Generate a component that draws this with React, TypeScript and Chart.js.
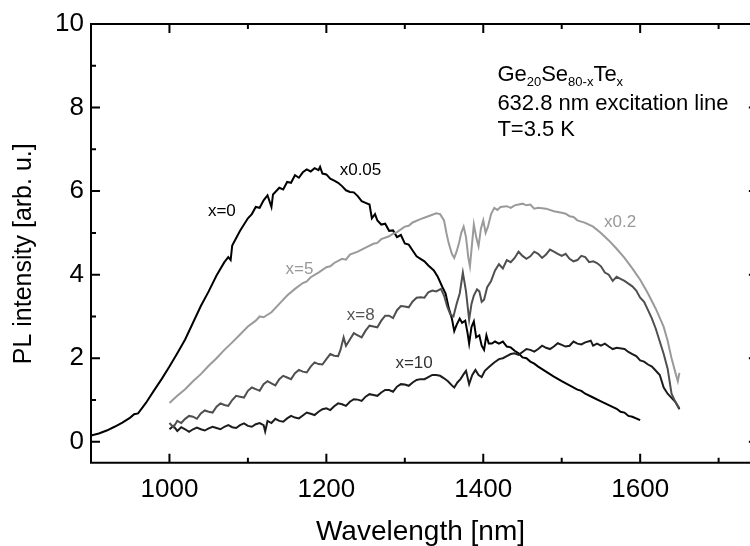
import React, { useEffect, useRef } from "react";
import { Chart, registerables } from "chart.js";

Chart.register(...registerables);

// ---- data (wavelength nm, PL intensity arb. u.) ----
const x0Spectrum: [number, number][] = [
  [900, 0.15], [910, 0.2], [920, 0.27], [930, 0.36], [940, 0.46], [950, 0.58], [955, 0.66], [960, 0.68],
  [970, 0.93], [980, 1.22], [990, 1.5], [1000, 1.8], [1010, 2.12], [1020, 2.45], [1030, 2.85], [1040, 3.25],
  [1050, 3.6], [1060, 3.98], [1070, 4.3], [1075, 4.42], [1078, 4.35], [1080, 4.7], [1090, 5.05], [1100, 5.35],
  [1105, 5.45], [1110, 5.62], [1115, 5.6], [1120, 5.78], [1125, 5.9], [1130, 5.62], [1132, 5.92], [1140, 6.08],
  [1145, 6.04], [1150, 6.22], [1155, 6.2], [1160, 6.38], [1165, 6.32], [1170, 6.45], [1175, 6.52], [1180, 6.47],
  [1185, 6.55], [1190, 6.5], [1192, 6.58], [1195, 6.42], [1200, 6.4], [1205, 6.3], [1210, 6.25], [1215, 6.2],
  [1220, 6.12], [1225, 6.02], [1230, 5.98], [1235, 5.97], [1240, 5.88], [1245, 5.76], [1250, 5.72], [1255, 5.68],
  [1258, 5.35], [1262, 5.45], [1265, 5.3], [1270, 5.2], [1275, 5.22], [1280, 5.05], [1285, 5.06], [1290, 4.9],
  [1295, 4.95], [1300, 4.75], [1305, 4.72], [1310, 4.58], [1315, 4.44], [1320, 4.38], [1325, 4.32], [1330, 4.22],
  [1337, 4.1], [1342, 3.95], [1348, 3.7], [1352, 3.55], [1356, 3.2], [1360, 2.95],
  [1363, 2.65], [1366, 2.8], [1370, 2.95], [1373, 2.85], [1377, 2.9], [1380, 2.6], [1382, 2.35], [1385, 2.75],
  [1388, 2.88], [1391, 2.5], [1395, 2.55], [1398, 2.3], [1401, 2.2], [1404, 2.55], [1407, 2.35], [1411, 2.35],
  [1415, 2.4], [1420, 2.35], [1425, 2.4], [1430, 2.28], [1435, 2.26], [1440, 2.18], [1445, 2.12], [1450, 2.02],
  [1455, 2.0], [1460, 1.92], [1465, 1.87], [1470, 1.8], [1475, 1.74], [1480, 1.68], [1490, 1.56], [1500, 1.45],
  [1510, 1.35], [1520, 1.25], [1525, 1.22], [1530, 1.15], [1540, 1.06], [1550, 0.97],
  [1560, 0.88], [1570, 0.79], [1575, 0.72], [1580, 0.7], [1585, 0.62], [1590, 0.6], [1600, 0.52],
];

const x5Spectrum: [number, number][] = [
  [1000, 0.93], [1010, 1.1], [1020, 1.26], [1030, 1.45], [1040, 1.62], [1050, 1.82], [1060, 2.0], [1070, 2.2],
  [1080, 2.38], [1090, 2.57], [1100, 2.76], [1110, 2.9], [1115, 3.0], [1120, 2.98], [1130, 3.1], [1140, 3.3],
  [1150, 3.5], [1160, 3.66], [1170, 3.8], [1175, 3.84], [1180, 3.94], [1190, 4.05], [1200, 4.18], [1205, 4.2],
  [1210, 4.28], [1220, 4.38], [1225, 4.36], [1230, 4.48], [1240, 4.55], [1245, 4.6], [1250, 4.65], [1260, 4.74],
  [1265, 4.76], [1270, 4.85], [1280, 4.92], [1285, 4.98], [1290, 5.02], [1300, 5.15], [1305, 5.17],
  [1310, 5.25], [1320, 5.33], [1330, 5.4], [1340, 5.47], [1345, 5.45], [1350, 5.3], [1353, 5.0], [1356, 4.75],
  [1360, 4.5], [1363, 4.4], [1366, 4.55], [1369, 4.75], [1372, 5.0], [1375, 5.15], [1378, 4.9], [1381, 4.4],
  [1383, 4.2], [1385, 4.6], [1388, 5.2], [1391, 4.9], [1394, 4.68], [1397, 5.1], [1400, 5.3], [1403, 5.0],
  [1406, 5.15], [1410, 5.45], [1414, 5.6], [1418, 5.55], [1422, 5.62], [1430, 5.64], [1435, 5.6], [1440, 5.66],
  [1450, 5.7], [1455, 5.66], [1460, 5.68], [1465, 5.58], [1470, 5.6], [1480, 5.58], [1490, 5.52], [1500, 5.48],
  [1505, 5.46], [1510, 5.4], [1515, 5.38], [1520, 5.3],
  [1530, 5.24], [1540, 5.15], [1550, 5.0], [1560, 4.82], [1570, 4.62], [1580, 4.4], [1590, 4.15], [1600, 3.88],
  [1610, 3.55], [1620, 3.18], [1630, 2.75], [1635, 2.42], [1640, 2.0], [1645, 1.65], [1648, 1.45], [1650, 1.65],
];

const x8Spectrum: [number, number][] = [
  [1000, 0.45], [1005, 0.35], [1010, 0.5], [1015, 0.45], [1020, 0.55], [1025, 0.62], [1030, 0.6], [1035, 0.55],
  [1040, 0.68], [1045, 0.75], [1050, 0.72], [1055, 0.7], [1060, 0.84], [1065, 0.92], [1070, 0.88], [1075, 0.86],
  [1080, 1.0], [1085, 1.1], [1090, 1.08], [1095, 1.06], [1100, 1.22], [1105, 1.3], [1110, 1.26], [1115, 1.22],
  [1120, 1.38], [1125, 1.45], [1130, 1.4], [1135, 1.35], [1140, 1.5], [1145, 1.58], [1150, 1.54], [1155, 1.5],
  [1160, 1.64], [1165, 1.72], [1170, 1.68], [1175, 1.66], [1180, 1.8], [1185, 1.9], [1190, 1.86], [1195, 1.85],
  [1200, 1.98], [1205, 2.1], [1210, 2.06], [1215, 2.05], [1218, 2.2], [1222, 2.5], [1225, 2.3], [1230, 2.45],
  [1235, 2.6], [1240, 2.55], [1245, 2.5], [1250, 2.66], [1255, 2.78], [1260, 2.76], [1265, 2.74], [1270, 2.9],
  [1275, 3.02], [1280, 3.02], [1285, 2.96], [1290, 3.15], [1295, 3.25], [1300, 3.24], [1305, 3.22], [1310, 3.36],
  [1315, 3.45], [1320, 3.46], [1325, 3.45], [1330, 3.58], [1335, 3.62], [1340, 3.6], [1346, 3.66], [1350, 3.5],
  [1354, 3.24], [1358, 3.05], [1362, 3.0], [1366, 3.3], [1370, 3.55], [1374, 4.05], [1378, 3.6], [1382, 2.92],
  [1385, 3.3], [1388, 3.5], [1392, 3.65], [1395, 3.6], [1398, 3.35], [1401, 3.4], [1405, 3.7], [1410, 3.85],
  [1415, 4.1], [1420, 4.25], [1425, 4.15], [1430, 4.35], [1435, 4.3], [1440, 4.4], [1445, 4.55], [1450, 4.45],
  [1455, 4.38], [1460, 4.44], [1465, 4.55], [1470, 4.5], [1475, 4.4], [1480, 4.48], [1485, 4.6], [1490, 4.55],
  [1495, 4.5], [1500, 4.45], [1505, 4.5], [1510, 4.38], [1515, 4.32], [1520, 4.35], [1525, 4.45], [1530, 4.42],
  [1535, 4.3], [1540, 4.32], [1545, 4.28], [1550, 4.2], [1555, 4.05], [1560, 4.0], [1565, 3.85], [1570, 3.95],
  [1575, 3.9], [1580, 3.85], [1590, 3.72], [1595, 3.62], [1600, 3.45], [1605, 3.35], [1610, 3.15], [1615, 2.95],
  [1620, 2.7], [1625, 2.4], [1630, 2.1], [1635, 1.75], [1640, 1.15], [1645, 0.95], [1650, 0.8],
];

const x10Spectrum: [number, number][] = [
  [1000, 0.3], [1005, 0.38], [1010, 0.26], [1015, 0.35], [1020, 0.3], [1025, 0.24], [1030, 0.3], [1035, 0.34],
  [1040, 0.3], [1045, 0.27], [1050, 0.32], [1055, 0.36], [1060, 0.33], [1065, 0.3], [1070, 0.36], [1075, 0.4],
  [1080, 0.35], [1085, 0.33], [1090, 0.4], [1095, 0.44], [1100, 0.38], [1105, 0.36], [1110, 0.42], [1115, 0.45],
  [1120, 0.4], [1122, 0.25], [1125, 0.5], [1130, 0.45], [1135, 0.55], [1140, 0.5], [1145, 0.48], [1150, 0.56],
  [1155, 0.62], [1160, 0.58], [1165, 0.56], [1170, 0.63], [1175, 0.7], [1180, 0.67], [1185, 0.64], [1190, 0.72],
  [1195, 0.78], [1200, 0.8], [1205, 0.76], [1210, 0.85], [1215, 0.92], [1220, 0.9], [1225, 0.86], [1230, 0.96],
  [1235, 1.02], [1240, 1.01], [1245, 0.98], [1250, 1.08], [1255, 1.14], [1260, 1.12], [1265, 1.1], [1270, 1.18],
  [1275, 1.24], [1280, 1.24], [1285, 1.2], [1290, 1.32], [1295, 1.38], [1300, 1.37], [1305, 1.34], [1310, 1.42],
  [1315, 1.48], [1320, 1.5], [1325, 1.5], [1330, 1.55], [1335, 1.6], [1340, 1.6], [1345, 1.58], [1350, 1.52],
  [1355, 1.45], [1360, 1.35], [1363, 1.3], [1367, 1.42], [1371, 1.5], [1375, 1.62], [1378, 1.7], [1382, 1.38],
  [1386, 1.6], [1390, 1.72], [1394, 1.6], [1398, 1.55], [1402, 1.7], [1408, 1.8], [1414, 1.9], [1420, 1.98],
  [1425, 2.0], [1430, 2.05], [1435, 2.1], [1440, 2.12], [1445, 2.08], [1450, 2.15], [1455, 2.22], [1460, 2.2],
  [1465, 2.16], [1470, 2.22], [1475, 2.3], [1480, 2.25], [1485, 2.22], [1490, 2.28], [1495, 2.36], [1500, 2.32],
  [1505, 2.28], [1510, 2.3], [1515, 2.4], [1520, 2.35], [1525, 2.33], [1530, 2.38], [1537, 2.42], [1540, 2.3],
  [1545, 2.35], [1550, 2.3], [1555, 2.35], [1560, 2.28], [1565, 2.22], [1570, 2.25], [1580, 2.22], [1585, 2.15],
  [1590, 2.1], [1595, 2.05], [1600, 1.95], [1605, 1.92], [1610, 1.85], [1615, 1.8], [1620, 1.7], [1625, 1.6],
  [1630, 1.3], [1635, 1.15], [1640, 1.05], [1645, 0.95], [1650, 0.78],
];

// axis ticks
const xMajorTicks = [1000, 1200, 1400, 1600];
const xMinorTicks = [1100, 1300, 1500, 1700];
const yMajorTicks = [0, 2, 4, 6, 8, 10];
const yMinorTicks = [1, 3, 5, 7, 9];
const xFrameMax = 1750;

// curve labels: text, wavelength, intensity, colour
const curveLabels: [string, number, number, string][] = [
  ["x=0", 1049, 5.4, "#000000"],
  ["x0.05", 1217, 6.39, "#000000"],
  ["x=5", 1148, 4.02, "#999999"],
  ["x=8", 1226, 2.91, "#555555"],
  ["x=10", 1288, 1.76, "#333333"],
  ["x0.2", 1554, 5.15, "#999999"],
];

const FONT = "'Liberation Sans', Arial, Helvetica, sans-serif";

const framePlugin = {
  id: "framePlugin",
  afterDraw(chart: any) {
    const { ctx } = chart;
    const xs = chart.scales.x;
    const ys = chart.scales.y;
    const L = xs.getPixelForValue(900);
    const R = xs.getPixelForValue(xFrameMax);
    const T = ys.getPixelForValue(10);
    const B = ys.getPixelForValue(-0.5);
    ctx.save();
    ctx.strokeStyle = "#000";
    ctx.lineWidth = 2;
    ctx.lineCap = "square";
    ctx.beginPath();
    ctx.moveTo(L, T); ctx.lineTo(R, T);
    ctx.moveTo(L, T); ctx.lineTo(L, B);
    ctx.moveTo(L, B); ctx.lineTo(R, B);
    ctx.moveTo(R, T); ctx.lineTo(R, B);
    ctx.stroke();
    ctx.lineCap = "butt";
    ctx.beginPath();
    const drawX = (v: number, len: number) => {
      const p = xs.getPixelForValue(v);
      ctx.moveTo(p, B); ctx.lineTo(p, B - len);
      ctx.moveTo(p, T); ctx.lineTo(p, T + len);
    };
    const drawY = (v: number, len: number) => {
      const p = ys.getPixelForValue(v);
      ctx.moveTo(L, p); ctx.lineTo(L + len, p);
      ctx.moveTo(R, p); ctx.lineTo(R - len, p);
    };
    xMajorTicks.forEach((v) => drawX(v, 9));
    xMinorTicks.forEach((v) => drawX(v, 5));
    yMajorTicks.forEach((v) => drawY(v, 9));
    yMinorTicks.forEach((v) => drawY(v, 5));
    ctx.stroke();

    // curve labels
    ctx.textBaseline = "alphabetic";
    ctx.textAlign = "left";
    ctx.font = `17px ${FONT}`;
    curveLabels.forEach(([t, wx, wy, c]) => {
      ctx.fillStyle = c;
      ctx.fillText(t, xs.getPixelForValue(wx), ys.getPixelForValue(wy));
    });

    // annotation block
    ctx.fillStyle = "#000";
    const ax = xs.getPixelForValue(1418);
    let cx = ax;
    const b1 = ys.getPixelForValue(8.64);
    const parts: [string, boolean][] = [["Ge", false], ["20", true], ["Se", false], ["80-x", true], ["Te", false], ["x", true]];
    parts.forEach(([t, sub]) => {
      ctx.font = sub ? `13px ${FONT}` : `22px ${FONT}`;
      ctx.fillText(t, cx, sub ? b1 + 5 : b1);
      cx += ctx.measureText(t).width;
    });
    ctx.font = `22px ${FONT}`;
    ctx.fillText("632.8 nm excitation line", ax, ys.getPixelForValue(7.95));
    ctx.fillText("T=3.5 K", ax, ys.getPixelForValue(7.32));
    ctx.restore();
  },
};

function toPoints(s: [number, number][]) {
  return s.map(([x, y]) => ({ x, y })).sort((a, b) => a.x - b.x);
}

export default function App() {
  const ref = useRef<HTMLCanvasElement | null>(null);
  useEffect(() => {
    if (!ref.current) return;
    const chart = new Chart(ref.current, {
      type: "line",
      data: {
        datasets: [
          { label: "x=5", data: toPoints(x5Spectrum), borderColor: "#9a9a9a", borderWidth: 2, pointRadius: 0, tension: 0 },
          { label: "x=8", data: toPoints(x8Spectrum), borderColor: "#4f4f4f", borderWidth: 2, pointRadius: 0, tension: 0 },
          { label: "x=10", data: toPoints(x10Spectrum), borderColor: "#1c1c1c", borderWidth: 2, pointRadius: 0, tension: 0 },
          { label: "x=0", data: toPoints(x0Spectrum), borderColor: "#000000", borderWidth: 2, pointRadius: 0, tension: 0 },
        ],
      },
      options: {
        responsive: false,
        animation: false,
        layout: { padding: { top: 24, left: 0, right: 0, bottom: 0 } },
        plugins: { legend: { display: false }, tooltip: { enabled: false } },
        scales: {
          x: {
            type: "linear",
            min: 900,
            max: 1740,
            afterBuildTicks: (s: any) => { s.ticks = xMajorTicks.map((v) => ({ value: v })); },
            afterFit: (s: any) => { s.height = 83.3; },
            grid: { display: false, drawTicks: false },
            border: { display: false },
            ticks: { color: "#000", font: { family: FONT, size: 26 }, padding: 12, maxRotation: 0, autoSkip: false, callback: (v: any) => String(v) },
            title: { display: true, text: "Wavelength [nm]", color: "#000", font: { family: FONT, size: 28, lineHeight: 1 }, padding: { top: 0, bottom: 0 } },
          },
          y: {
            type: "linear",
            min: -0.5,
            max: 10,
            afterBuildTicks: (s: any) => { s.ticks = yMajorTicks.map((v) => ({ value: v })); },
            afterFit: (s: any) => { s.width = 91; },
            grid: { display: false, drawTicks: false },
            border: { display: false },
            ticks: { color: "#000", font: { family: FONT, size: 26 }, padding: 7, autoSkip: false, callback: (v: any) => String(v) },
            title: { display: true, text: "PL intensity [arb. u.]   ", color: "#000", font: { family: FONT, size: 25, lineHeight: 1 }, padding: { top: 12, bottom: 0 } },
          },
        },
      },
      plugins: [framePlugin],
    });
    return () => chart.destroy();
  }, []);
  return (
    <div style={{ position: "fixed", left: 0, top: 0, width: 750, height: 546, background: "#fff" }}>
      <canvas ref={ref} width={750} height={546} style={{ display: "block" }} />
    </div>
  );
}
